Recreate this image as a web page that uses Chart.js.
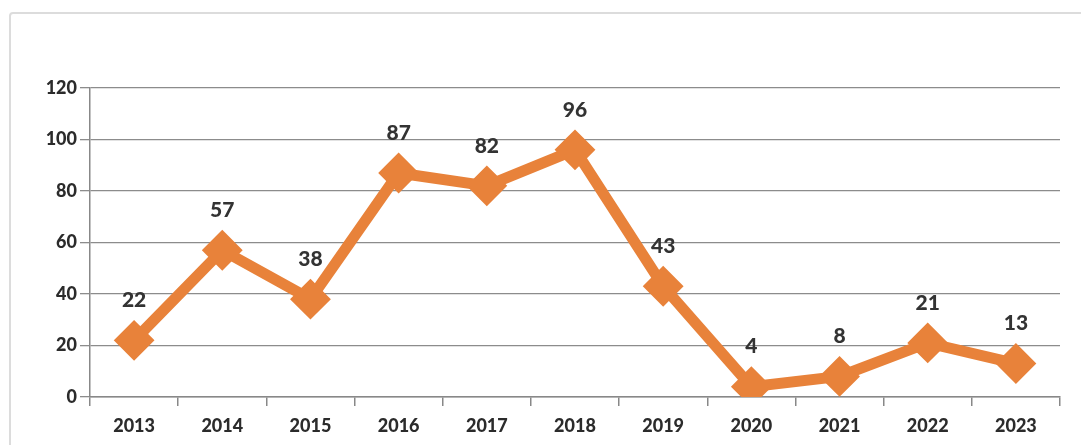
<!DOCTYPE html>
<html><head><meta charset="utf-8">
<script src="https://cdn.jsdelivr.net/npm/chart.js@4/dist/chart.umd.min.js"></script>
<style>html,body{margin:0;padding:0;background:#fff;overflow:hidden}#wrap{width:1081px;height:445px;position:relative}</style>
</head><body><div id="wrap"><canvas id="c" width="1081" height="445"></canvas></div>
<script>
const categories = ['2013','2014','2015','2016','2017','2018','2019','2020','2021','2022','2023'];
const values = [22, 57, 38, 87, 82, 96, 43, 4, 8, 21, 13];
const yTicks = [0, 20, 40, 60, 80, 100, 120];

const frame = {
  id: 'frame',
  beforeDraw(chart) {
    const ctx = chart.ctx;
    ctx.save();
    ctx.fillStyle = '#fff';
    ctx.fillRect(0, 0, chart.width, chart.height);
    ctx.strokeStyle = '#dcdcdc';
    ctx.lineWidth = 2;
    ctx.beginPath();
    ctx.moveTo(10, 460);
    ctx.lineTo(10, 16);
    ctx.quadraticCurveTo(10, 13, 13, 13);
    ctx.lineTo(1090, 13);
    ctx.stroke();
    ctx.restore();
  }
};
const labels = {
  id: 'labels',
  afterDatasetsDraw(chart) {
    const ctx = chart.ctx;
    const meta = chart.getDatasetMeta(0);
    ctx.save();
    ctx.font = '900 21px Lato, "Open Sans", sans-serif';
    ctx.fillStyle = '#333';
    ctx.textAlign = 'center';
    ctx.textBaseline = 'middle';
    meta.data.forEach((pt, i) => {
      ctx.fillText(String(values[i]), pt.x, pt.y - 40);
    });
    ctx.restore();
  }
};

new Chart(document.getElementById('c'), {
  type: 'line',
  data: {
    labels: categories,
    datasets: [{
      data: values,
      borderColor: '#E8823A',
      backgroundColor: '#E8823A',
      borderWidth: 11,
      pointStyle: 'rectRot',
      pointRadius: 19,
      pointBorderWidth: 2,
      pointBackgroundColor: '#E8823A',
      pointBorderColor: '#E8823A',
      tension: 0,
      borderJoinStyle: 'miter'
    }]
  },
  options: {
    responsive: false,
    animation: false,
    events: [],
    layout: { padding: { top: 88, right: 4, left: 0, bottom: 0 } },
    plugins: { legend: { display: false }, tooltip: { enabled: false } },
    scales: {
      x: {
        offset: true,
        grid: { display: true, drawOnChartArea: false, offset: true, tickLength: 9, color: '#888', lineWidth: 1.5 },
        border: { color: '#888', width: 1.5 },
        ticks: { color: '#2b2b2b', font: { family: 'Lato', weight: '900', size: 18 }, padding: 9, maxRotation: 0 },
        afterFit(s) { s.height = 48; }
      },
      y: {
        min: 0, max: 120,
        afterBuildTicks(s) { s.ticks = yTicks.map(v => ({ value: v })); },
        grid: { color: '#8c8c8c', lineWidth: 1.3, tickLength: 10 },
        border: { color: '#888', width: 1.5 },
        ticks: { color: '#2b2b2b', font: { family: 'Lato', weight: '900', size: 18 }, padding: 3 },
        afterFit(s) { s.width = 90; }
      }
    }
  },
  plugins: [frame, labels]
});
</script></body></html>
